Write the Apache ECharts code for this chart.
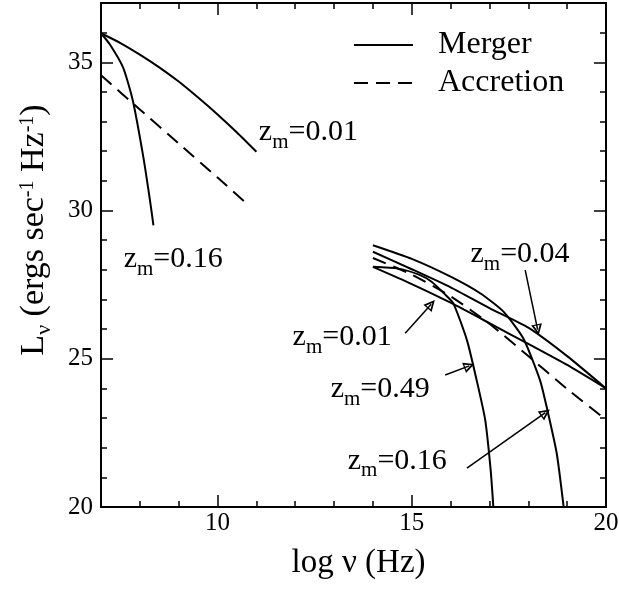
<!DOCTYPE html>
<html>
<head>
<meta charset="utf-8">
<script src="https://cdn.jsdelivr.net/npm/echarts@6/dist/echarts.min.js"></script>
<style>
html, body { margin: 0; padding: 0; background: #fff; }
#chart { width: 619px; height: 593px; }
</style>
</head>
<body>
<div id="chart"></div>
<script>
// log nu (Hz) vs L_nu
var mergerLow001 = [[7,35.98],[7.5,35.65],[8,35.26],[8.5,34.83],[9,34.35],[9.5,33.81],[10,33.24],[10.5,32.63],[11,31.98]];
var mergerLow016 = [[7,35.98],[7.23,35.6],[7.57,34.82],[7.82,33.7],[8.09,31.8],[8.26,30.35],[8.35,29.5]];
var accretionLow = [[7,34.56],[8,33.41],[9,32.26],[10,31.11],[10.8,30.18]];
var mergerHigh001 = [[14,28.1],[15,27.52],[16,26.89],[17,26.2],[18,25.5],[19,24.79],[20,24.0]];
var mergerHigh004 = [[14,28.61],[15,28.02],[16,27.41],[17,26.71],[18,26.05],[19,25.09],[20,24.0]];
var mergerHigh016 = [[14,28.83],[15,28.37],[16,27.77],[16.76,27.21],[17.36,26.59],[17.87,25.69],[18.3,24.28],[18.47,23.39],[18.73,21.82],[18.91,20]];
var mergerHigh049 = [[14,28.1],[14.65,28.04],[15.2,27.83],[15.51,27.6],[15.85,27.18],[16.07,26.87],[16.42,25.63],[16.67,24.28],[16.89,22.94],[17.03,21.26],[17.1,20]];
var accretionHigh = [[14,28.4],[15,27.84],[16,27.11],[17,26.18],[18,25.09],[19,23.98],[20,22.94]];

// z_m annotations: label anchor (left, middle) and arrows tail -> tip
var labelTexts = ['0.01', '0.16', '0.04', '0.01', '0.49', '0.16'];
var labelAnchors = [[11.05,32.63],[7.57,28.36],[16.5,28.53],[11.92,25.72],[12.9,23.98],[13.34,21.56]];
var arrowTails = [[17.92,27.99],[14.83,25.86],[15.86,24.45],[16.42,21.31]];
var arrowTips = [[18.24,25.98],[15.5,26.84],[16.48,24.76],[18.44,23.18]];

var xMajorTicks = [10, 15, 20];
var yMajorTicks = [20, 25, 30, 35];

var FONT = 'Liberation Serif';
var BLACK = '#000';

function minorX(pos, showLabel) {
    return {
        type: 'value', position: pos, min: 7, max: 20, interval: 1,
        axisLine: { show: true, lineStyle: { color: BLACK, width: 2 } },
        axisTick: { inside: true, length: 6, lineStyle: { color: BLACK, width: 1.5 } },
        axisLabel: {
            show: showLabel, margin: 4, fontFamily: FONT, fontSize: 25, color: BLACK,
            formatter: function (v) { return xMajorTicks.indexOf(v) >= 0 ? String(v) : ''; }
        },
        splitLine: { show: false }
    };
}
function majorX(pos) {
    return {
        type: 'value', position: pos, min: 7, max: 20,
        axisLine: { show: false },
        axisTick: { inside: true, length: 12, customValues: xMajorTicks, lineStyle: { color: BLACK, width: 1.5 } },
        axisLabel: { show: false },
        splitLine: { show: false }
    };
}
function minorY(pos, showLabel) {
    return {
        type: 'value', position: pos, min: 20, max: 37, interval: 1,
        axisLine: { show: true, lineStyle: { color: BLACK, width: 2 } },
        axisTick: { inside: true, length: 6, lineStyle: { color: BLACK, width: 1.5 } },
        axisLabel: {
            show: showLabel, margin: 8, fontFamily: FONT, fontSize: 25, color: BLACK,
            formatter: function (v) { return yMajorTicks.indexOf(v) >= 0 ? String(v) : ''; }
        },
        splitLine: { show: false }
    };
}
function majorY(pos) {
    return {
        type: 'value', position: pos, min: 20, max: 37,
        axisLine: { show: false },
        axisTick: { inside: true, length: 12, customValues: yMajorTicks, lineStyle: { color: BLACK, width: 1.5 } },
        axisLabel: { show: false },
        splitLine: { show: false }
    };
}

var xBottom = minorX('bottom', true);
xBottom.name = 'log \u03bd (Hz)';
xBottom.nameLocation = 'middle';
xBottom.nameGap = 40;
xBottom.nameTextStyle = { fontFamily: FONT, fontSize: 33, color: BLACK, padding: [0, 0, 0, 10] };

var yLeft = minorY('left', true);
yLeft.name = '{b|L}{sub|\u03bd}{b| (ergs sec}{sup|-1}{b| Hz}{sup|-1}{b|)}';
yLeft.nameLocation = 'middle';
yLeft.nameGap = 46;
yLeft.nameTextStyle = {
    padding: [0, 0, 0, 50],
    rich: {
        b: { fontFamily: FONT, fontSize: 34, color: BLACK, verticalAlign: 'middle' },
        sub: { fontFamily: FONT, fontSize: 22, color: BLACK, verticalAlign: 'middle', padding: [20, 0, 0, 0] },
        sup: { fontFamily: FONT, fontSize: 20, color: BLACK, verticalAlign: 'middle', padding: [0, 0, 12, 0] }
    }
};

function curve(name, data, dashed) {
    return {
        name: name, type: 'line', data: data, xAxisIndex: 0, yAxisIndex: 0,
        symbol: 'none', showSymbol: false, smooth: 0.2,
        lineStyle: { color: BLACK, width: 2, type: dashed ? [14, 8] : 'solid' },
        itemStyle: { color: BLACK },
        silent: true
    };
}

var noteLabels = labelTexts.map(function (t, i) {
    return {
        coord: labelAnchors[i],
        label: { formatter: '{b|z}{s|m}{b|=' + t + '}' }
    };
});
var noteArrows = arrowTails.map(function (p, i) {
    return [{ coord: p }, { coord: arrowTips[i] }];
});

var series = [
    curve('Merger', mergerLow001, false),
    curve('Merger', mergerLow016, false),
    curve('Merger', mergerHigh001, false),
    curve('Merger', mergerHigh004, false),
    curve('Merger', mergerHigh016, false),
    curve('Merger', mergerHigh049, false),
    curve('Accretion', accretionLow, true),
    curve('Accretion', accretionHigh, true),
    {
        name: 'notes', type: 'line', data: [], xAxisIndex: 0, yAxisIndex: 0, silent: true,
        markPoint: {
            symbol: 'circle', symbolSize: 1, silent: true,
            itemStyle: { color: 'rgba(0,0,0,0)' },
            label: {
                show: true, position: 'right', distance: 0, color: BLACK,
                rich: {
                    b: { fontFamily: FONT, fontSize: 30, color: BLACK, verticalAlign: 'middle' },
                    s: { fontFamily: FONT, fontSize: 21, color: BLACK, verticalAlign: 'middle', padding: [20, 0, 0, 0] }
                }
            },
            data: noteLabels
        },
        markLine: {
            silent: true,
            symbol: ['none', 'path://M5,0 L10,16 L0,16 Z M5,5.5 L2.4,14.2 L7.6,14.2 Z'],
            symbolSize: 11,
            label: { show: false },
            lineStyle: { color: BLACK, width: 1.5, type: 'solid' },
            data: noteArrows
        }
    }
];

var myChart = echarts.init(document.getElementById('chart'));
myChart.setOption({
    animation: false,
    backgroundColor: '#fff',
    grid: { left: 101, right: 13, top: 3, bottom: 86, containLabel: false, outerBoundsMode: 'none' },
    legend: {
        data: ['Merger', 'Accretion'],
        orient: 'vertical', left: 353, top: 29, padding: 0, itemGap: 6,
        itemWidth: 59, itemHeight: 14, selectedMode: false,
        itemStyle: { color: 'rgba(0,0,0,0)', borderWidth: 0 },
        textStyle: { fontFamily: FONT, fontSize: 32, color: BLACK, padding: [0, 0, 0, 20] }
    },
    xAxis: [xBottom, majorX('bottom'), minorX('top', false), majorX('top')],
    yAxis: [yLeft, majorY('left'), minorY('right', false), majorY('right')],
    series: series
});
</script>
</body>
</html>
